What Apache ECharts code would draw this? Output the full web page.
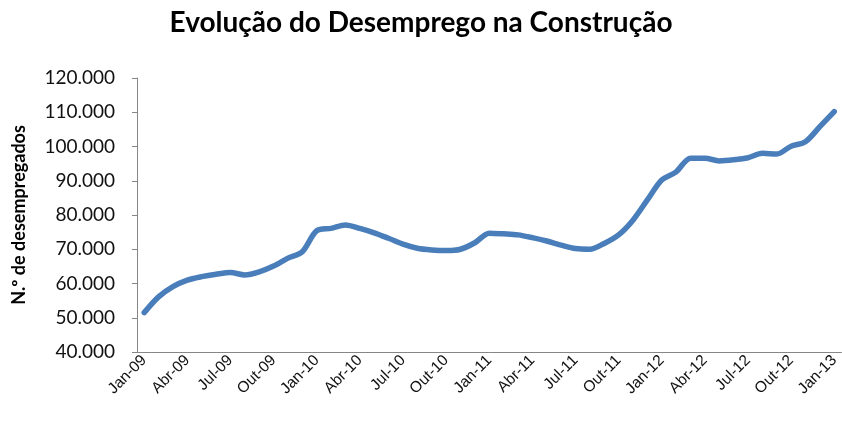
<!DOCTYPE html>
<html>
<head>
<meta charset="utf-8">
<script src="https://cdn.jsdelivr.net/npm/echarts@6/dist/echarts.min.js"></script>
<style>
  html, body { margin: 0; padding: 0; background: #fff; }
  #chart { width: 842px; height: 421px; }
</style>
</head>
<body>
<div id="chart"></div>
<script>
// meses Jan-09 .. Jan-13
var meses = ['Jan','Fev','Mar','Abr','Mai','Jun','Jul','Ago','Set','Out','Nov','Dez'];
var categorias = [];
for (var a = 9; a <= 13; a++) {
  for (var m = 0; m < 12; m++) {
    if (a === 13 && m > 0) break;
    categorias.push(meses[m] + '-' + (a < 10 ? '0' + a : a));
  }
}
// desempregados na construção
var desempregados = [
  51500, 56100, 59100, 61000, 62000, 62700, 63200, 62500, 63400, 65100, 67400, 69300,
  75400, 76100, 77100, 76100, 74800, 73200, 71500, 70300, 69800, 69600, 70000, 71900,
  74700, 74500, 74200, 73400, 72400, 71200, 70200, 70000, 71700, 74200, 78500, 84400,
  90200, 92600, 96600, 96600, 95800, 96100, 96700, 98000, 97800, 100100, 101400, 105800,
  110200
];

var chart = echarts.init(document.getElementById('chart'));
var option = {
  animation: false,
  title: {
    text: 'Evolução do Desemprego na Construção',
    left: 'center',
    top: 4,
    textStyle: { fontFamily: 'Lato', fontWeight: 'bold', fontSize: 28, color: '#000' }
  },
  grid: { left: 137, right: 0, top: 78, bottom: 69 },
  xAxis: {
    type: 'category',
    data: categorias,
    boundaryGap: true,
    axisLine: { lineStyle: { color: '#868686', width: 1 } },
    axisTick: { interval: 2, length: 5, lineStyle: { color: '#868686' } },
    axisLabel: {
      interval: 2,
      rotate: 45,
      fontFamily: 'Liberation Sans',
      fontSize: 15.5,
      color: '#111',
      margin: 6
    }
  },
  yAxis: {
    type: 'value',
    min: 40000,
    max: 120000,
    interval: 10000,
    name: 'N.º de desempregados',
    nameLocation: 'middle',
    nameGap: 109,
    nameRotate: 90,
    nameTextStyle: { fontFamily: 'Lato', fontWeight: 'bold', fontSize: 18, color: '#000' },
    axisLine: { show: true, lineStyle: { color: '#868686', width: 1 } },
    axisTick: { show: true, length: 5, lineStyle: { color: '#868686' } },
    splitLine: { show: false },
    axisLabel: {
      fontFamily: 'Lato',
      fontSize: 19,
      color: '#111',
      margin: 22,
      formatter: function (v) {
        return String(v).replace(/\B(?=(\d{3})+(?!\d))/g, '.');
      }
    }
  },
  series: [{
    type: 'line',
    data: desempregados,
    smooth: 0.3,
    showSymbol: false,
    lineStyle: { color: '#4a7ebb', width: 5.5, cap: 'round' }
  }]
};
chart.setOption(option);
</script>
</body>
</html>
